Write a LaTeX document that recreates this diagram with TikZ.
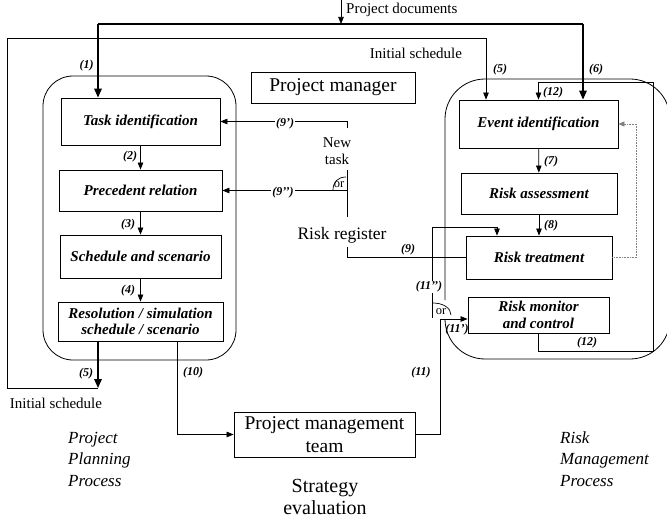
\documentclass[tikz,border=0pt]{standalone}
\usepackage{fontspec}
\setmainfont{Liberation Serif}
\usetikzlibrary{arrows.meta,calc}
\begin{document}
\begin{tikzpicture}[x=1pt,y=-1pt,
  ln/.style={line width=0.7pt},
  arr/.style={ln,-{Triangle[length=7pt,width=5.5pt]}},
  thk/.style={line width=1.6pt},
  tarr/.style={thk,-{Triangle[length=9pt,width=7.5pt]}},
  procbox/.style={draw,line width=0.8pt,inner sep=1pt,align=center,font=\fontsize{15}{16}\selectfont\bfseries\itshape},
  lbl/.style={font=\fontsize{12}{12}\selectfont\bfseries\itshape,inner sep=1pt},
  wlbl/.style={lbl,fill=white},
  txt/.style={font=\fontsize{15}{16.5}\selectfont,inner sep=0pt,align=center},
  bigtxt/.style={font=\fontsize{19.5}{22.5}\selectfont,align=center,inner sep=0pt},
  proc/.style={font=\fontsize{17}{21.5}\selectfont\itshape,align=left,inner sep=0pt},
]
\useasboundingbox (0,0) rectangle (667,524);

% process frames
\node[draw,line width=0.8pt,rounded corners=30pt,minimum width=193pt,minimum height=284pt] (ppframe) at (139.5,218) {};
\draw[line width=0.8pt,rounded corners=40pt] (445,300) -- (445,79) -- (670,79) -- (670,359) -- (445,359) -- (445,319);

% left boxes
\node[procbox,minimum width=159pt,minimum height=47pt] (ti) at (140.5,121.5) {Task identification};
\node[procbox,minimum width=163pt,minimum height=41pt] (pr) at (140.5,190.5) {Precedent relation};
\node[procbox,minimum width=161pt,minimum height=43pt] (ss) at (140.5,256.5) {Schedule and scenario};
\node[procbox,minimum width=165pt,minimum height=39pt] (rs) at (140.5,321.5) {Resolution / simulation\\schedule / scenario};

% right boxes
\node[procbox,minimum width=159pt,minimum height=48pt] (ei) at (538.5,124) {Event identification};
\node[procbox,minimum width=156pt,minimum height=41pt] (ra) at (539,193.5) {Risk assessment};
\node[procbox,minimum width=146pt,minimum height=43pt] (rt) at (539,257.5) {Risk treatment};
\node[procbox,minimum width=141pt,minimum height=36pt,font=\fontsize{15}{17}\selectfont\bfseries\itshape] (rmc) at (538.5,315) {Risk monitor\\and control};

% central boxes
\node[draw,line width=0.8pt,bigtxt,minimum width=164pt,minimum height=31pt] (pm) at (333,87.5) {Project manager};
\node[draw,line width=0.8pt,bigtxt,minimum width=181pt,minimum height=45pt] (pmt) at (324.5,434.5) {Project management\\team};

% texts
\node[txt,anchor=west] (pd) at (346,10) {Project documents};
\node[txt] (is1) at (416,53) {Initial schedule};
\node[txt] (is2) at (56,403) {Initial schedule};
\node[txt] (nt) at (337,151) {New\\task};
\node[font=\fontsize{17.5}{20}\selectfont,inner sep=0pt] (rr) at (342,235) {Risk register};
\node[font=\fontsize{12.5}{12}\selectfont,inner sep=0pt] (or1) at (339,185) {or};
\node[font=\fontsize{12.5}{12}\selectfont,inner sep=0pt] (or2) at (441,312) {or};
\node[proc,anchor=west] (ppp) at (68,459) {Project\\Planning\\Process};
\node[proc,anchor=west] (rmp) at (560,459) {Risk\\Management\\Process};
\node[font=\fontsize{20}{21.5}\selectfont,align=center,inner sep=0pt] (se) at (325,497) {Strategy\\evaluation};

% coordinates
\coordinate (docin) at (341,0);
\coordinate (docbar) at (341,24);
\coordinate (docL) at (98,24);
\coordinate (docR) at (583,24);
\coordinate (isBot) at (98,388);
\coordinate (isBL) at (7,388);
\coordinate (isTL) at (7,38);
\coordinate (sp1) at (347,128);
\coordinate (sp2) at (347,170);
\coordinate (sp3) at (347,217);
\coordinate (sp4) at (347,247);
\coordinate (fbR) at (653,82);
\coordinate (o11a) at (432,318);
\coordinate (o11b) at (432,227);
\coordinate (c11) at (440,319);

% project documents
\draw[arr] (docin) -- (docbar);
\draw[thk] (docL) -- (docR);
\draw[tarr] (docL) -- (docL |- ti.north);
\draw[tarr] (docR) -- (docR |- ei.north);

% planning chain
\draw[arr] (ti) -- (pr);
\draw[arr] (pr) -- (ss);
\draw[arr] (ss) -- (rs);

% initial schedule
\draw[tarr] (isBot |- rs.south) -- (isBot);
\draw[arr] (isBot) -- (isBL) -- (isTL) -| ([xshift=-52.5pt]ei.north);

% risk chain
\draw[arr] (ei) -- (ra);
\draw[arr] (ra) -- (rt);
\draw[gray,line width=0.6pt,densely dotted,-{Triangle[length=6pt,width=5pt]}] (rt.east) -- ++(24,0) |- (ei.east);
\draw[arr] (rmc.south) -- ++(0,18) -| (fbR) -| (ei.north);

% new task / risk register
\draw[arr] (sp1) |- (ti.east);
\draw[ln] (sp2) -- (sp3);
\draw[arr] (sp2 |- pr.east) -- (pr.east);
\draw[ln] (333,190) .. controls (333,182) and (338,177) .. (346,177);
\draw[ln] (sp4) |- (rt.west);

% strategy evaluation
\draw[arr] ([xshift=36.5pt]rs.south) |- (pmt.west);
\draw[arr] (pmt.east) -| (c11) -- (c11 -| rmc.west);
\draw[arr] (o11a) -- (o11b) -| ([xshift=-42pt]rt.north);
\draw[ln] (433,303) .. controls (443,303) and (451,308) .. (451,315);

% labels
\node[lbl] (l1) at (86.5,66) {(1)};
\node[lbl] (l2) at (130,157) {(2)};
\node[lbl] (l3) at (128,225) {(3)};
\node[lbl] (l4) at (128,291) {(4)};
\node[lbl] (l5b) at (86,374) {(5)};
\node[lbl] (l10) at (193,373) {(10)};
\node[lbl] (l11) at (421,373) {(11)};
\node[lbl] (l5t) at (500,70) {(5)};
\node[lbl] (l6) at (596,70) {(6)};
\node[lbl] (l12t) at (553,93) {(12)};
\node[lbl] (l7) at (551,162) {(7)};
\node[lbl] (l8) at (551,226) {(8)};
\node[lbl] (l9) at (408,250) {(9)};
\node[wlbl] (l9a) at (285,124) {(9')};
\node[wlbl] (l9b) at (283,193) {(9'{}')};
\node[wlbl] (l11b) at (429,287) {(11'{}')};
\node[lbl] (l11a) at (457,330) {(11')};
\node[lbl] (l12b) at (587,343) {(12)};
\end{tikzpicture}
\end{document}
